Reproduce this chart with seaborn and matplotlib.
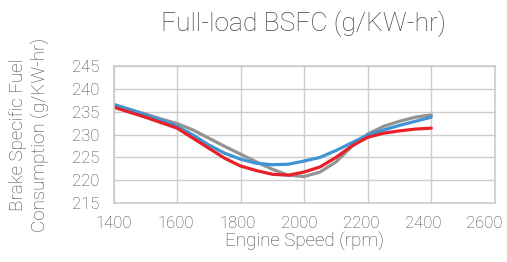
import numpy as np
import pandas as pd
import matplotlib
matplotlib.use("Agg")
import matplotlib.pyplot as plt
import matplotlib.transforms as mtrans
import seaborn as sns

# datos (cada 50 rpm)
rpm = [1400, 1450, 1500, 1550, 1600, 1650, 1700, 1750, 1800, 1850, 1900,
       1950, 2000, 2050, 2100, 2150, 2200, 2250, 2300, 2350, 2400]
serie_gris = [236.5, 235.5, 234.5, 233.4, 232.4, 231.0, 229.2, 227.4, 225.7, 224.0, 222.4,
              221.1, 220.8, 221.8, 224.0, 227.4, 230.1, 231.8, 232.9, 233.8, 234.3]
serie_azul = [236.6, 235.5, 234.3, 233.1, 231.8, 229.9, 227.7, 225.9, 224.6, 223.7, 223.4,
              223.5, 224.2, 225.0, 226.5, 228.2, 229.9, 231.0, 232.0, 232.9, 233.8]
serie_roja = [236.0, 234.9, 233.8, 232.6, 231.4, 229.2, 227.0, 224.8, 223.1, 222.1, 221.3,
              221.1, 221.8, 222.9, 225.0, 227.5, 229.4, 230.3, 230.8, 231.2, 231.4]
x_ticks = [1400, 1600, 1800, 2000, 2200, 2400, 2600]
y_ticks = [215, 220, 225, 230, 235, 240, 245]

df = pd.DataFrame({"rpm": rpm * 3,
                   "bsfc": serie_gris + serie_azul + serie_roja,
                   "serie": ["gris"] * len(rpm) + ["azul"] * len(rpm) + ["roja"] * len(rpm)})

sns.set_style("white")
plt.rcParams['font.family'] = ['Roboto', 'DejaVu Sans']
plt.rcParams['font.weight'] = 'light'

texto = "#444444"
rejilla = "#cccccc"

fig = plt.figure(figsize=(5.07, 2.62), dpi=100)
ax = fig.add_axes([0.224, 0.225, 0.752, 0.523])

sns.lineplot(data=df, x="rpm", y="bsfc", hue="serie",
             palette={"gris": "#939393", "azul": "#3e94d4", "roja": "#e8202a"},
             linewidth=2.3, legend=False, ax=ax)

ax.set_xlim(1400, 2600)
ax.set_ylim(215, 245)
ax.set_xticks(x_ticks)
ax.set_yticks(y_ticks)
ax.grid(True, color=rejilla, linewidth=1.0)
ax.set_axisbelow(True)
for s in ax.spines.values():
    s.set_color(rejilla)
    s.set_linewidth(1.2)
ax.tick_params(axis="x", length=0, labelsize=12, labelcolor=texto, pad=9)
ax.tick_params(axis="y", length=0, labelsize=12, labelcolor=texto, pad=10)

# las etiquetas del eje x estan algo comprimidas en el original
for i, lab in enumerate(ax.get_xticklabels()):
    lab.set_transform(lab.get_transform() +
                      mtrans.ScaledTranslation(-0.017 * i, 0, fig.dpi_scale_trans))

ax.set_xlabel("Engine Speed (rpm)", fontsize=13.5, color=texto, labelpad=1,
              fontweight="light")
ax.set_ylabel("Brake Specific Fuel\nConsumption (g/KW-hr)", fontsize=13.5, color=texto,
              linespacing=1.25, labelpad=16, fontweight="light")
fig.text(0.598, 0.908, "Full-load BSFC (g/KW-hr)", ha="center", va="center",
         fontsize=19, color=texto, fontweight="light")

fig.savefig("out.png", dpi=100)
